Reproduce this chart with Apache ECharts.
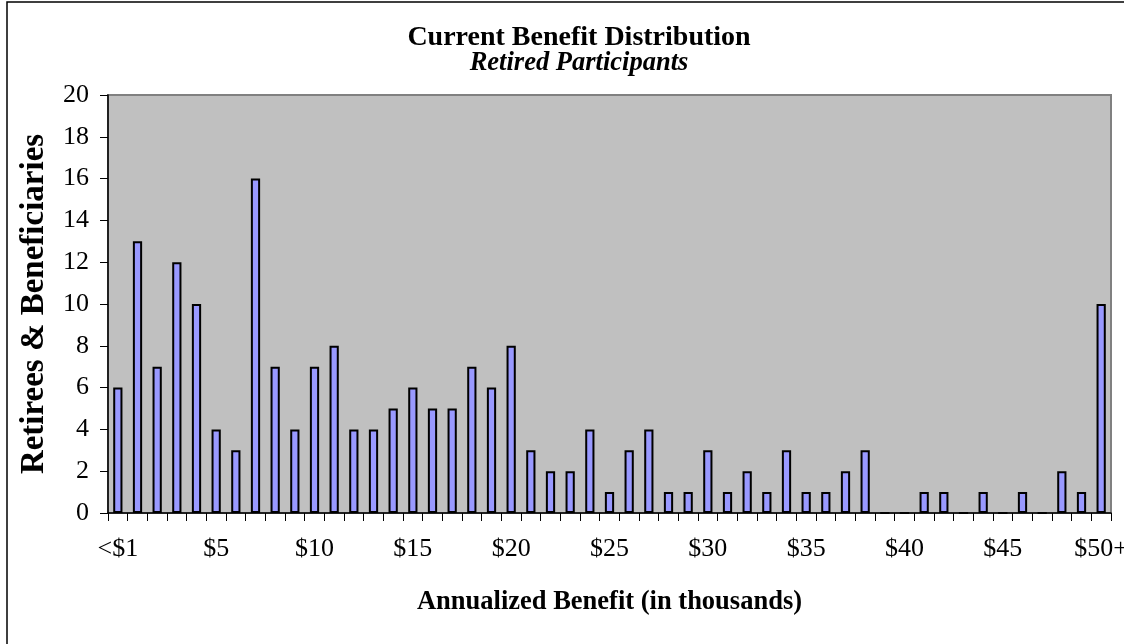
<!DOCTYPE html>
<html>
<head>
<meta charset="utf-8">
<script src="https://cdn.jsdelivr.net/npm/echarts@6/dist/echarts.min.js"></script>
<style>
html,body{margin:0;padding:0;background:#fff;}
#c{width:1124px;height:644px;}
</style>
</head>
<body>
<div id="c"></div>
<script>
var categories = ['<$1','1','2','3','4','$5','6','7','8','9','$10','11','12','13','14','$15','16','17','18','19','$20','21','22','23','24','$25','26','27','28','29','$30','31','32','33','34','$35','36','37','38','39','$40','41','42','43','44','$45','46','47','48','49','$50+'];
var counts = [6,13,7,12,10,4,3,16,7,4,7,8,4,4,5,6,5,5,7,6,8,3,2,2,4,1,3,4,1,1,3,1,2,1,3,1,1,2,3,0,0,1,1,0,1,0,1,0,2,1,10];
var yTicks = {min:0, max:20, step:2};

var FONT = '"Liberation Serif","Times New Roman",serif';
var chart = echarts.init(document.getElementById('c'), null, {renderer:'canvas'});
chart.setOption({
  animation:false,
  backgroundColor:'#ffffff',
  title:[
    {text:'Current Benefit Distribution', left:574, top:19, textAlign:'center',
     textStyle:{fontFamily:FONT, fontSize:28, fontWeight:'bold', color:'#000'}},
    {text:'Retired Participants', left:574, top:45, textAlign:'center',
     textStyle:{fontFamily:FONT, fontSize:26.5, fontWeight:'bold', fontStyle:'italic', color:'#000'}}
  ],
  graphic:[
    {type:'rect', shape:{x:7, y:2, width:1130, height:660}, style:{fill:'none', stroke:'#000', lineWidth:1.5}, z:100}
  ],
  grid:{left:108, right:13, top:95, bottom:131, containLabel:false, outerBoundsMode:'none',
        show:true, backgroundColor:'#C0C0C0', borderColor:'#808080', borderWidth:2},
  xAxis:{
    type:'category', data:categories, boundaryGap:true,
    name:'Annualized Benefit (in thousands)', nameLocation:'middle', nameGap:76,
    nameTextStyle:{fontFamily:FONT, fontSize:26.5, fontWeight:'bold', color:'#000'},
    axisLine:{lineStyle:{color:'#000', width:1.5}},
    axisTick:{show:true, interval:0, length:8, lineStyle:{color:'#000', width:1}},
    axisLabel:{interval:4, margin:23, fontFamily:FONT, fontSize:26, color:'#000', hideOverlap:false},
    splitLine:{show:false}
  },
  yAxis:{
    type:'value', min:yTicks.min, max:yTicks.max, interval:yTicks.step,
    name:'Retirees & Beneficiaries', nameLocation:'middle', nameGap:57, nameRotate:90,
    nameTextStyle:{fontFamily:FONT, fontSize:33, fontWeight:'bold', color:'#000'},
    axisLine:{show:true, lineStyle:{color:'#000', width:1.5}},
    axisTick:{show:true, length:8, lineStyle:{color:'#000', width:1}},
    axisLabel:{margin:19, fontFamily:FONT, fontSize:26, color:'#000'},
    splitLine:{show:false}
  },
  series:[{
    type:'bar', data:counts, barWidth:'47%',
    itemStyle:{color:'#9999FF', borderColor:'#000', borderWidth:2}
  }]
});
</script>
</body>
</html>
